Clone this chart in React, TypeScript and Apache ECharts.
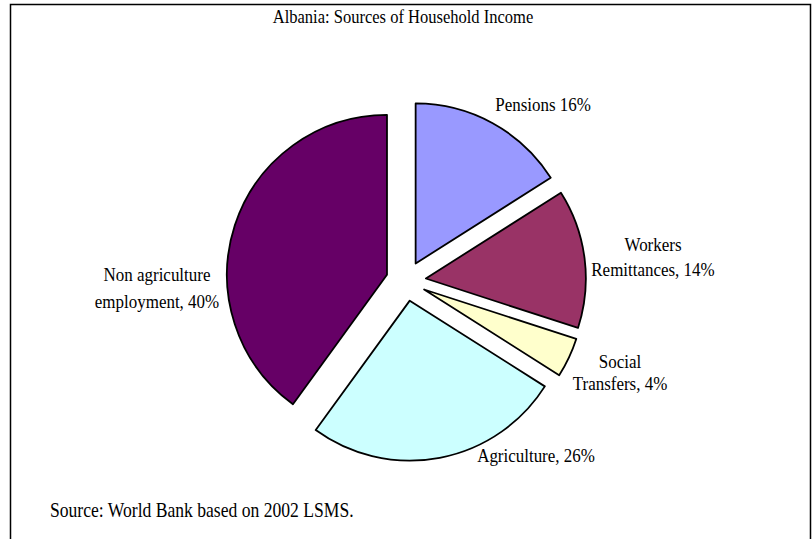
import React, { useEffect, useRef } from "react";
import * as echarts from "echarts";

const categories = [
  "Pensions",
  "Workers\nRemittances",
  "Social\nTransfers",
  "Agriculture",
  "Non agriculture\nemployment",
];
const values = [16, 14, 4, 26, 40];
const colors = ["#9999FF", "#993366", "#FFFFCC", "#CCFFFF", "#660066"];
const titleText = "Albania: Sources of Household Income";
const sourceText = "Source: World Bank based on 2002 LSMS.";

const labelPos: [number, number][] = [
  [543, 105],
  [653, 257],
  [620, 373],
  [536, 456],
  [157, 288],
];
const labelLineHeights = [24, 25, 22, 27, 27];

const FONT = "'Liberation Serif', 'Times New Roman', serif";
const SX = 0.87;

const labelText = (i: number) =>
  i === 0 ? `${categories[i]} ${values[i]}%` : `${categories[i]}, ${values[i]}%`;

export default function App() {
  const ref = useRef<HTMLDivElement>(null);
  useEffect(() => {
    if (!ref.current) return;
    const chart = echarts.init(ref.current, undefined, { renderer: "svg" });
    chart.setOption({
      animation: false,
      backgroundColor: "#ffffff",
      graphic: [
        {
          type: "rect",
          shape: { x: 10.5, y: 4.5, width: 800, height: 560 },
          style: { fill: "none", stroke: "#000", lineWidth: 1.5 },
          silent: true,
        },
        {
          type: "text",
          x: 403,
          y: 17,
          scaleX: SX,
          style: {
            text: titleText,
            fontFamily: FONT,
            fontSize: 19,
            fill: "#000",
            align: "center",
            verticalAlign: "middle",
          },
        },
        {
          type: "text",
          x: 50,
          y: 510,
          scaleX: 0.88,
          style: {
            text: sourceText,
            fontFamily: FONT,
            fontSize: 20,
            fill: "#000",
            verticalAlign: "middle",
            align: "left",
          },
        },
        ...labelPos.map((p, i) => ({
          type: "text",
          x: p[0],
          y: p[1],
          scaleX: SX,
          style: {
            text: labelText(i),
            fontFamily: FONT,
            fontSize: 19.5,
            lineHeight: labelLineHeights[i],
            fill: "#000",
            align: "center",
            verticalAlign: "middle",
          },
        })),
      ],
      series: [
        {
          type: "pie",
          center: [406, 281],
          radius: 160,
          startAngle: 90,
          clockwise: true,
          selectedMode: "multiple",
          selectedOffset: 20,
          avoidLabelOverlap: false,
          silent: true,
          emphasis: { disabled: true },
          itemStyle: { borderColor: "#000", borderWidth: 1.8 },
          label: { show: false },
          labelLine: { show: false },
          data: categories.map((c, i) => ({
            name: c,
            value: values[i],
            selected: true,
            itemStyle: { color: colors[i] },
          })),
        },
      ],
    });
    return () => chart.dispose();
  }, []);
  return (
    <div
      ref={ref}
      style={{ position: "absolute", left: 0, top: 0, width: 812, height: 539, background: "#fff" }}
    />
  );
}
